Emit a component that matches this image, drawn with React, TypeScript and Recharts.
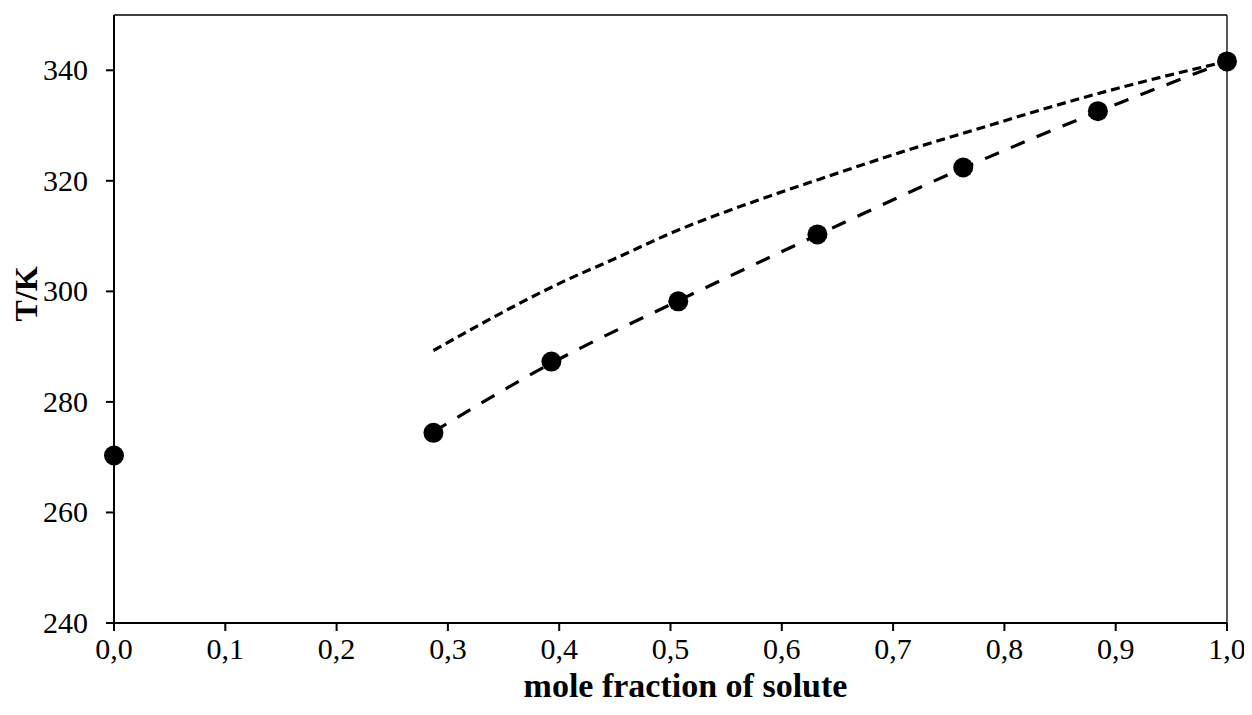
import React from "react";
import {
  ComposedChart,
  Line,
  Scatter,
  XAxis,
  YAxis,
  ReferenceLine,
} from "recharts";

// experimental solubility points
const expX = [0, 0.287, 0.393, 0.507, 0.632, 0.763, 0.884, 1.0];
const expT = [270.3, 274.4, 287.3, 298.2, 310.3, 322.4, 332.6, 341.6];

// fitted model (long dashes)
const modelX = [0.287, 0.393, 0.507, 0.632, 0.763, 0.884, 1.0];
const modelT = [274.6, 287.0, 298.3, 310.2, 322.3, 332.5, 341.6];

// ideal solubility (short dashes)
const idealX = [0.287, 0.404, 0.452, 0.5, 0.58, 0.634, 0.706, 0.796, 0.832, 0.922, 1.0];
const idealT = [289.3, 301.8, 306.1, 310.5, 316.6, 320.3, 325.1, 330.6, 332.8, 337.8, 341.6];

const xTicks = [0, 0.1, 0.2, 0.3, 0.4, 0.5, 0.6, 0.7, 0.8, 0.9, 1.0];
const yTicks = [240, 260, 280, 300, 320, 340];

const zip = (xs: number[], ts: number[]) => xs.map((x, i) => ({ x, T: ts[i] }));

const expData = zip(expX, expT);
const modelData = zip(modelX, modelT);
const idealData = zip(idealX, idealT);

const FONT = "'Liberation Serif', 'Times New Roman', serif";
const TICK_FS = 30;

const Dot = (p: any) => <circle cx={p.cx} cy={p.cy} r={10} fill="#000" />;

const XTick = ({ x, y, payload }: any) => (
  <text
    x={x}
    y={y + TICK_FS * 0.68}
    textAnchor="middle"
    fontSize={TICK_FS}
    fontFamily={FONT}
    fill="#000"
  >
    {Number(payload.value).toFixed(1).replace(".", ",")}
  </text>
);

const YTick = ({ x, y, payload }: any) => (
  <text
    x={x}
    y={y + TICK_FS * 0.33}
    textAnchor="end"
    fontSize={TICK_FS}
    fontFamily={FONT}
    fill="#000"
  >
    {payload.value}
  </text>
);

export default function App() {
  return (
    <ComposedChart
      width={1244}
      height={700}
      margin={{ top: 7, right: 25, left: 0, bottom: 0 }}
    >
      <XAxis
        type="number"
        dataKey="x"
        domain={[0, 1]}
        ticks={xTicks}
        tick={<XTick />}
        tickSize={8}
        tickMargin={8}
        axisLine={{ stroke: "#000", strokeWidth: 2 }}
        tickLine={{ stroke: "#000", strokeWidth: 2 }}
        height={85}
        label={(props: any) => {
          const vb = props.viewBox;
          const cx = vb.x + vb.width / 2 + 15;
          const cy = vb.y + 74;
          return (
            <text
              x={cx}
              y={cy}
              textAnchor="middle"
              fontSize={34}
              fontWeight="bold"
              fontFamily={FONT}
              fill="#000"
            >
              mole fraction of solute
            </text>
          );
        }}
      />
      <YAxis
        type="number"
        dataKey="T"
        domain={[240, 350]}
        ticks={yTicks}
        tick={<YTick />}
        tickSize={8}
        tickMargin={18}
        axisLine={{ stroke: "#000", strokeWidth: 2 }}
        tickLine={{ stroke: "#000", strokeWidth: 2 }}
        width={106}
        label={(props: any) => {
          const vb = props.viewBox;
          const cx = vb.x + 18;
          const cy = vb.y + vb.height / 2 - 25;
          return (
            <text
              x={cx}
              y={cy}
              transform={`rotate(-90 ${cx} ${cy})`}
              textAnchor="middle"
              dominantBaseline="central"
              fontSize={32}
              fontWeight="bold"
              fontFamily={FONT}
              fill="#000"
            >
              T/K
            </text>
          );
        }}
      />
      <ReferenceLine y={350} stroke="#000" strokeWidth={1.3} />
      <ReferenceLine x={1} stroke="#000" strokeWidth={1.3} />
      <Line
        data={idealData}
        dataKey="T"
        type="monotone"
        stroke="#000"
        strokeWidth={3.2}
        strokeDasharray="9 5"
        dot={false}
        activeDot={false}
        isAnimationActive={false}
      />
      <Line
        data={modelData}
        dataKey="T"
        type="monotone"
        stroke="#000"
        strokeWidth={3.2}
        strokeDasharray="15 13"
        dot={false}
        activeDot={false}
        isAnimationActive={false}
      />
      <Scatter
        data={expData}
        dataKey="T"
        fill="#000"
        shape={Dot}
        isAnimationActive={false}
      />
    </ComposedChart>
  );
}
